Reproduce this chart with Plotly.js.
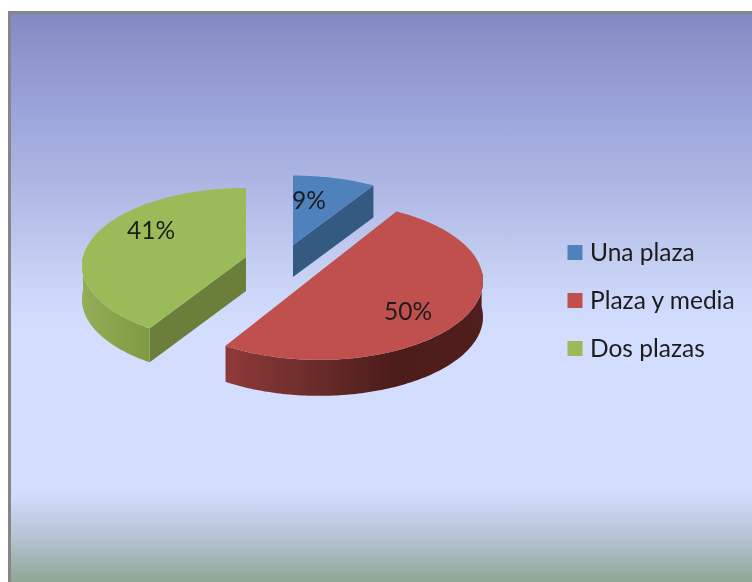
<!DOCTYPE html>
<html>
<head>
<meta charset="utf-8">
<script src="https://cdn.plot.ly/plotly-3.0.1.min.js"></script>
<style>
html,body{margin:0;padding:0;background:#fff;overflow:hidden}
#bg{position:absolute;left:8px;top:11px;width:744px;height:571px;box-sizing:border-box;
 border-left:3px solid #868686;border-top:3px solid #868686;
 background:linear-gradient(to bottom,#8589c3 0px,#9aa3d8 90px,#aeb6e3 170px,#c4cff2 250px,#d3deff 315px,#d3deff 478px,#b4c2d0 525px,#8fa796 568px)}
#chart{position:absolute;left:0;top:0;width:752px;height:582px;filter:blur(0.5px)}
</style>
</head>
<body>
<div id="bg"></div>
<div id="chart"></div>
<script>
// Data
const categories = ["Una plaza", "Plaza y media", "Dos plazas"];
const values = [9, 50, 41];
const topColors = ["#4f81bd", "#c0504d", "#9bbb59"];
const cutColors = ["#355a82", "#5a2524", "#6b7f3b"];
const rimScales = [
  [[0, "#3a6190"], [1, "#3a6190"]],
  [[0, "#8f3a38"], [0.3, "#6f2e2c"], [0.65, "#4c1c1b"], [1, "#501e1d"]],
  [[0, "#94ad56"], [1, "#7f9a42"]]
];

// Projection settings for the tilted, exploded pie
const PERSP = 0.11;
const radii = [164, 163, 163];
const tilts = [0.47, 0.478, 0.47];
const turns = [0, -1.1, 0];
const centers = [[293, 245], [319, 272.3], [246, 257]];
const depths = [32, 36, 34];
const labelOffsets = [[16, -42], [89, 41.5], [-95, -24]];
const legendX = 575, legendTextX = 590, legendY = [252.5, 300.5, 348.5];
const textNudge = 2.5;

function proj(i, deg) {
  const c = centers[i], a = (deg + turns[i]) * Math.PI / 180;
  const X = Math.sin(a), Y = -Math.cos(a);
  const s = 1 / (1 - PERSP * Y);
  return [c[0] + radii[i] * X * s, c[1] + radii[i] * tilts[i] * Y * s];
}
function arc(i, a0, a1, dy) {
  const pts = [], n = Math.max(2, Math.ceil(Math.abs(a1 - a0)));
  for (let k = 0; k <= n; k++) {
    const p = proj(i, a0 + (a1 - a0) * k / n);
    pts.push([p[0], p[1] + dy]);
  }
  return pts;
}
function poly(pts, extra) {
  const closed = pts.concat([pts[0]]);
  return Object.assign({
    type: "scatter", mode: "none", fill: "toself", hoverinfo: "skip", showlegend: false,
    x: closed.map(p => p[0]), y: closed.map(p => p[1])
  }, extra);
}

const total = values.reduce((a, b) => a + b, 0);
const traces = [];
let start = 0;
values.forEach((v, i) => {
  const a0 = start, a1 = start + v / total * 360;
  start = a1;
  const c = centers[i], d = depths[i];
  // cut face facing the viewer
  const cutAngle = i === 0 ? a1 : (i === 2 ? a0 : null);
  if (cutAngle !== null) {
    const p = proj(i, cutAngle);
    traces.push(poly([c, p, [p[0], p[1] + d], [c[0], c[1] + d]], {fillcolor: cutColors[i]}));
  }
  // outer rim on the part of the arc facing the viewer
  const r0 = Math.max(a0, 90), r1 = Math.min(a1, 270);
  if (r1 > r0) {
    const top = arc(i, r0, r1, 0), bot = arc(i, r1, r0, d);
    traces.push(poly(top.concat(bot), {
      fillcolor: rimScales[i][0][1],
      fillgradient: {type: "horizontal", colorscale: rimScales[i]}
    }));
  }
  // top face
  traces.push(poly([c].concat(arc(i, a0, a1, 0)), {fillcolor: topColors[i]}));
});

// percentage labels
traces.push({
  type: "scatter", mode: "text", hoverinfo: "skip", showlegend: false,
  x: centers.map((c, i) => c[0] + labelOffsets[i][0]),
  y: centers.map((c, i) => c[1] + labelOffsets[i][1]),
  text: values.map(v => v + "%"),
  textposition: "middle center",
  textfont: {family: "Lato, 'Open Sans', sans-serif", size: 24.5, color: "#1c1c1c"}
});

// legend
traces.push({
  type: "scatter", mode: "markers", hoverinfo: "skip", showlegend: false,
  x: categories.map(() => legendX), y: legendY,
  marker: {symbol: "square", size: 15, color: topColors, line: {width: 0}}
});
traces.push({
  type: "scatter", mode: "text", hoverinfo: "skip", showlegend: false,
  x: categories.map(() => legendTextX), y: legendY.map(y => y + textNudge),
  text: categories, textposition: "middle right",
  textfont: {family: "Lato, 'Open Sans', sans-serif", size: 24.5, color: "#1c1c1c"}
});

const layout = {
  width: 752, height: 582,
  margin: {l: 0, r: 0, t: 0, b: 0, pad: 0},
  paper_bgcolor: "rgba(0,0,0,0)", plot_bgcolor: "rgba(0,0,0,0)",
  showlegend: false,
  xaxis: {visible: false, range: [0, 752], fixedrange: true},
  yaxis: {visible: false, range: [582, 0], fixedrange: true}
};
Plotly.newPlot("chart", traces, layout, {displayModeBar: false, staticPlot: true});
</script>
</body>
</html>
